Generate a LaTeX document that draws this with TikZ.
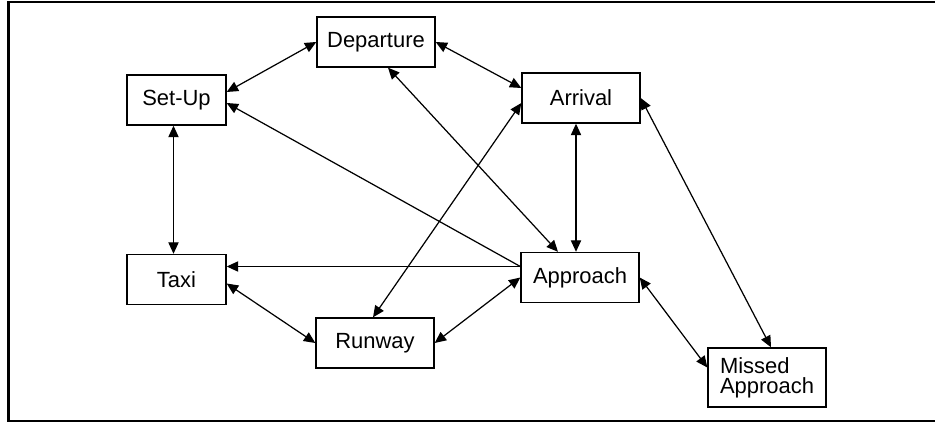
\documentclass[tikz,border=0pt]{standalone}
\usepackage{fontspec}
\setmainfont{Liberation Sans}
\usepackage{tikz}
\usetikzlibrary{arrows.meta,calc}

\begin{document}
\begin{tikzpicture}[
  x=0.02cm, y=-0.02cm,
  every node/.style={font=\fontsize{12.5}{13.5}\selectfont},
  phase/.style={draw=black, line width=0.8pt, minimum height=1.0cm, inner sep=1pt},
  wide/.style={phase, minimum width=2.36cm},
  narrow/.style={phase, minimum width=1.98cm},
  both/.style={{Triangle[length=6.5pt,width=5.8pt]}-{Triangle[length=6.5pt,width=5.8pt]}, line width=0.7pt},
  one/.style={-{Triangle[length=6.5pt,width=5.8pt]}, line width=0.7pt},
]
\useasboundingbox (0,0) rectangle (935,425);
% ---------------- frame ----------------
\draw[line width=1.7pt] (936,2) -- (8.5,2) -- (8.5,421) -- (936,421);
% ---------------- phases ----------------
\node[wide]   (departure) at (376,42)    {Departure};
\node[narrow] (setup)     at (176.5,100) {Set-Up};
\node[wide]   (arrival)   at (581,98)    {Arrival};
\node[narrow] (taxi)      at (176.5,279.5) {Taxi};
\node[wide]   (runway)    at (375,343)   {Runway};
\node[wide]   (approach)  at (580,277.5) {Approach};
\node[wide, minimum height=1.18cm, align=left] (missed) at (767,377.5)
     {Missed\\[-2pt]Approach};
% ---------------- transitions ----------------
\draw[both] ($(setup.east)+(0,-8)$) -- (departure.west);
\draw[both] (departure.east) -- ($(arrival.west)+(0,-10)$);
\coordinate (apin) at ($(approach.west)+(0,-11)$);
\draw[one]  (apin) -- ($(setup.east)+(0,3)$);
\draw[one]  (apin) -- (apin -| taxi.east);
\draw[both] ($(departure.south)+(12,0)$) -- ($(approach.north)+(-22,0)$);
\draw[both] ($(arrival.west)+(0,5)$) -- ($(runway.north)+(-2,0)$);
\draw[both] ($(arrival.south)+(-5,0)$) -- ($(approach.north)+(-4,0)$);
\draw[both] (arrival.east) -- ($(missed.north)+(4,0)$);
\draw[both] ($(setup.south)+(-3,0)$) -- ($(taxi.north)+(-3,0)$);
\draw[both] ($(taxi.east)+(0,4)$) -- (runway.west);
\draw[both] (runway.east) -- (approach.west);
\draw[both] (approach.east) -- ($(missed.west)+(0,-10)$);
\end{tikzpicture}
\end{document}
